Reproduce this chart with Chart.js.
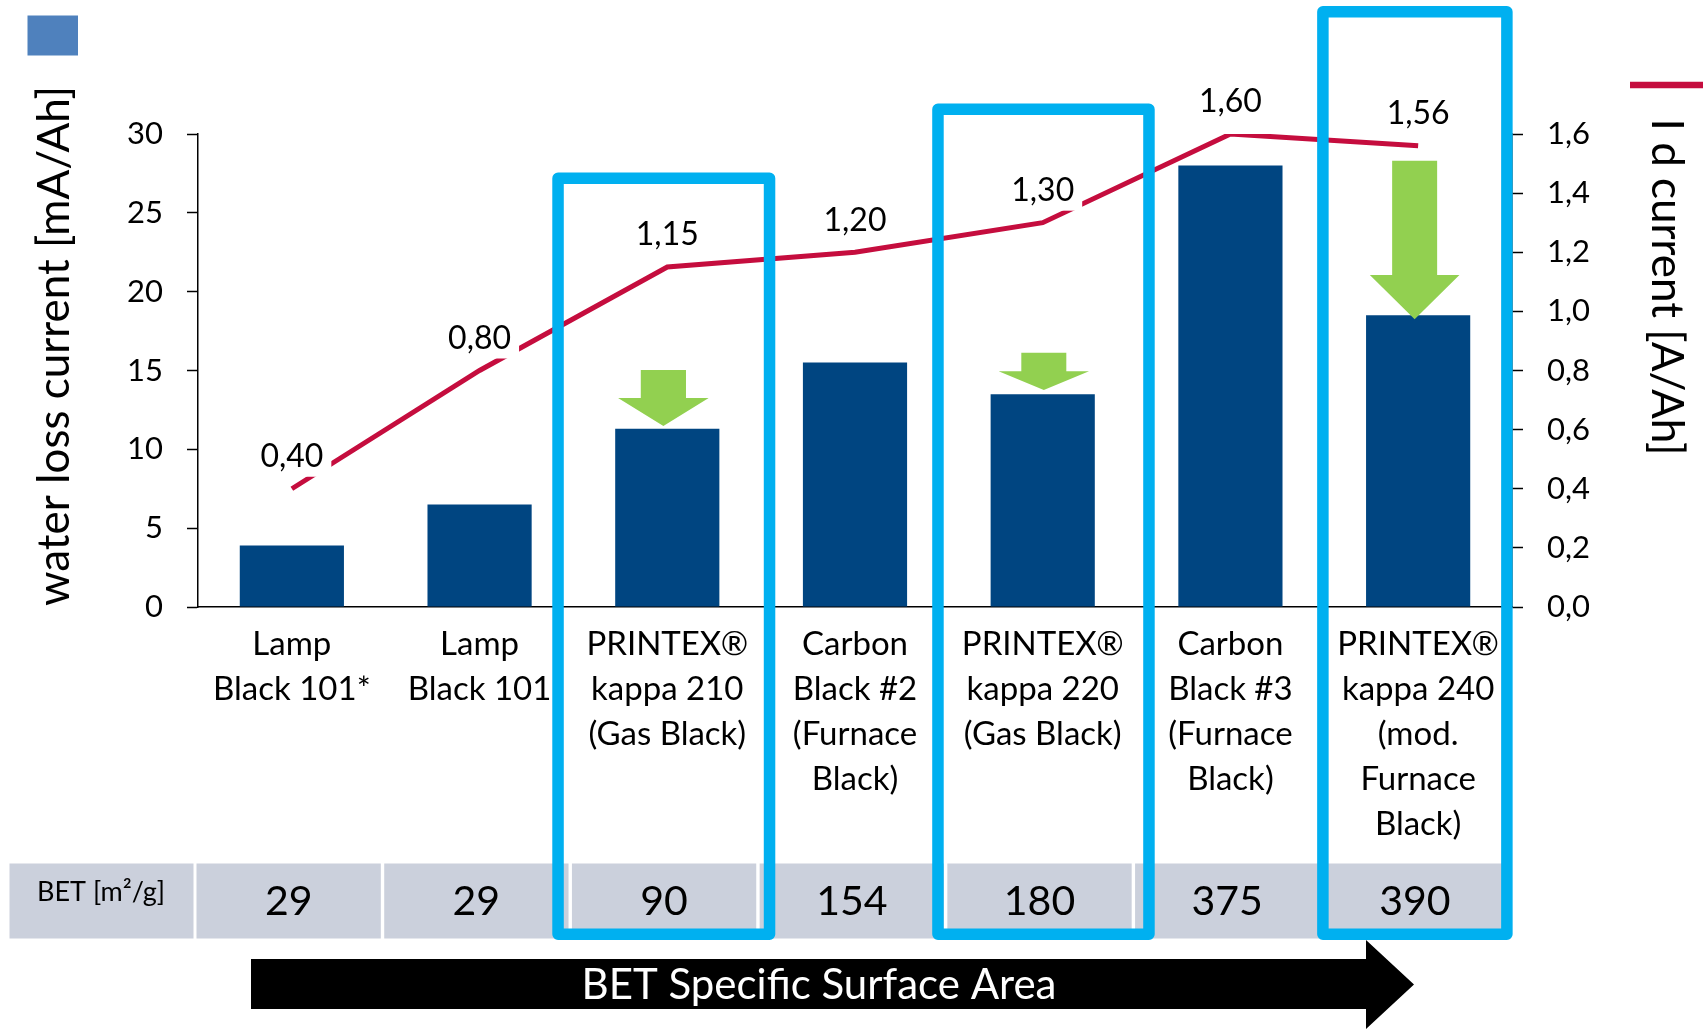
<!DOCTYPE html>
<html>
<head>
<meta charset="utf-8">
<script src="https://cdn.jsdelivr.net/npm/chart.js@4.4.0/dist/chart.umd.min.js"></script>
<style>
  html, body { margin: 0; padding: 0; background: #ffffff; }
  #wrap { width: 1703px; height: 1030px; position: relative; }
</style>
</head>
<body>
<div id="wrap"><canvas id="c" width="1703" height="1030"></canvas></div>
<script>
// ---- data ----
const categories = [
  ["Lamp", "Black 101*"],
  ["Lamp", "Black 101"],
  ["PRINTEX®", "kappa 210", "(Gas Black)"],
  ["Carbon", "Black #2", "(Furnace", "Black)"],
  ["PRINTEX®", "kappa 220", "(Gas Black)"],
  ["Carbon", "Black #3", "(Furnace", "Black)"],
  ["PRINTEX®", "kappa 240", "(mod.", "Furnace", "Black)"]
];
const waterLossCurrent = [3.9, 6.5, 11.3, 15.5, 13.5, 28.0, 18.5];
const idCurrent = [0.40, 0.80, 1.15, 1.20, 1.30, 1.60, 1.56];
const betValues = [29, 29, 90, 154, 180, 375, 390];
const betRowLabel = "BET [m²/g]";
const arrowText = "BET Specific Surface Area";
const leftTitle = "water loss current [mA/Ah]";
const rightTitle = "I d current [A/Ah]";
const highlighted = [2, 4, 6];
const reducedBars = [2, 4, 6];

// ---- styles ----
const BAR_COLOR = '#004581';
const LINE_COLOR = '#C50D3E';
const BOX_COLOR = '#00B0F0';
const GREEN = '#92D050';
const GRAY = '#CBD0DC';
const FONT = 'Lato';

const fmtComma = (v, d) => v.toFixed(d).replace('.', ',');

const overlay = {
  id: 'overlay',
  afterDatasetsDraw(chart) {
    const ctx = chart.ctx;
    const meta = chart.getDatasetMeta(1);
    ctx.save();
    ctx.font = '32px ' + FONT;
    ctx.textAlign = 'center';
    ctx.textBaseline = 'middle';
    meta.data.forEach((pt, i) => {
      const txt = fmtComma(idCurrent[i], 2);
      const w = ctx.measureText(txt).width;
      const cy = pt.y - 33;
      ctx.fillStyle = '#ffffff';
      ctx.fillRect(pt.x - w / 2 - 8, cy - 19, w + 16, 40);
      ctx.fillStyle = '#000000';
      ctx.fillText(txt, pt.x, cy + 1);
    });
    ctx.restore();
  },
  afterDraw(chart) {
    const ctx = chart.ctx;
    const xs = chart.scales.x;
    const cw = xs.getPixelForValue(1) - xs.getPixelForValue(0);
    ctx.save();

    // BET table row
    const rowTop = 863.5, rowBot = 938.5;
    ctx.fillStyle = GRAY;
    ctx.fillRect(9.5, rowTop, 184, rowBot - rowTop);
    betValues.forEach((v, i) => {
      const c = xs.getPixelForValue(i);
      ctx.fillRect(c - cw / 2 - 1.5, rowTop, cw - 3.4, rowBot - rowTop);
    });
    ctx.fillStyle = '#000';
    ctx.textAlign = 'center';
    ctx.textBaseline = 'middle';
    ctx.font = '27px ' + FONT;
    ctx.fillText(betRowLabel, 101, 892);
    ctx.font = '41px ' + FONT;
    betValues.forEach((v, i) => {
      const c = xs.getPixelForValue(i);
      ctx.fillText(String(v), c - 3.2, 902);
    });

    // black arrow
    ctx.fillStyle = '#000';
    ctx.beginPath();
    ctx.moveTo(251, 959);
    ctx.lineTo(1366, 959);
    ctx.lineTo(1366, 940);
    ctx.lineTo(1414, 984.5);
    ctx.lineTo(1366, 1029);
    ctx.lineTo(1366, 1009);
    ctx.lineTo(251, 1009);
    ctx.closePath();
    ctx.fill();
    ctx.fillStyle = '#fff';
    ctx.font = '42px ' + FONT;
    ctx.fillText(arrowText, 819, 985);

    // legend markers
    ctx.fillStyle = '#4F81BD';
    ctx.fillRect(27.5, 15.5, 50.5, 40);
    ctx.strokeStyle = LINE_COLOR;
    ctx.lineWidth = 6.5;
    ctx.beginPath();
    ctx.moveTo(1630, 85);
    ctx.lineTo(1703, 85);
    ctx.stroke();

    // axis titles
    ctx.fillStyle = '#000';
    ctx.textBaseline = 'alphabetic';
    ctx.font = '44px ' + FONT;
    ctx.save();
    ctx.translate(69, 346);
    ctx.rotate(-Math.PI / 2);
    ctx.fillText(leftTitle, 0, 0);
    ctx.restore();
    ctx.save();
    ctx.translate(1652, 287);
    ctx.rotate(Math.PI / 2);
    ctx.fillText(rightTitle, 0, 0);
    ctx.restore();

    // highlight boxes (offsets from category centre, outer edges)
    const boxGeom = [
      { l: -115, r: 108, t: 172.5 },
      { l: -110.5, r: 112, t: 103.5 },
      { l: -101, r: 94.5, t: 6 }
    ];
    const lw = 11.5;
    ctx.strokeStyle = BOX_COLOR;
    ctx.lineWidth = lw;
    ctx.lineJoin = 'round';
    highlighted.forEach((idx, k) => {
      const c = xs.getPixelForValue(idx);
      const g = boxGeom[k];
      const x0 = c + g.l + lw / 2, x1 = c + g.r - lw / 2;
      const y0 = g.t + lw / 2, y1 = 940 - lw / 2;
      ctx.beginPath();
      ctx.rect(x0, y0, x1 - x0, y1 - y0);
      ctx.stroke();
    });

    // green arrows pointing at reduced bars
    const arrowGeom = [
      { dx: -3.9, top: 370, head: 398, tip: 426, sw: 22.6, hw: 45.3 },
      { dx: 1.1, top: 352.7, head: 371.3, tip: 390, sw: 22.5, hw: 45.2 },
      { dx: -3.5, top: 160.7, head: 275, tip: 319.3, sw: 22.5, hw: 44.8 }
    ];
    ctx.fillStyle = GREEN;
    reducedBars.forEach((idx, k) => {
      const g = arrowGeom[k];
      const c = xs.getPixelForValue(idx) + g.dx;
      ctx.beginPath();
      ctx.moveTo(c - g.sw, g.top);
      ctx.lineTo(c + g.sw, g.top);
      ctx.lineTo(c + g.sw, g.head);
      ctx.lineTo(c + g.hw, g.head);
      ctx.lineTo(c, g.tip);
      ctx.lineTo(c - g.hw, g.head);
      ctx.lineTo(c - g.sw, g.head);
      ctx.closePath();
      ctx.fill();
    });

    ctx.restore();
  }
};

new Chart(document.getElementById('c'), {
  type: 'bar',
  data: {
    labels: categories,
    datasets: [
      {
        type: 'bar',
        label: 'water loss current',
        data: waterLossCurrent,
        backgroundColor: BAR_COLOR,
        yAxisID: 'y',
        barPercentage: 0.555,
        categoryPercentage: 1.0,
        order: 2
      },
      {
        type: 'line',
        label: 'I d current',
        data: idCurrent,
        borderColor: LINE_COLOR,
        borderWidth: 5,
        pointRadius: 0,
        tension: 0,
        fill: false,
        yAxisID: 'y1',
        order: 1
      }
    ]
  },
  options: {
    responsive: false,
    animation: false,
    devicePixelRatio: 1,
    layout: { padding: { top: 134, left: 0, right: 0, bottom: 0 } },
    plugins: { legend: { display: false }, title: { display: false }, tooltip: { enabled: false } },
    scales: {
      x: {
        offset: true,
        grid: { display: true, drawOnChartArea: false, drawTicks: false, color: '#000' },
        border: { display: true, color: '#000', width: 1.5 },
        ticks: {
          color: '#000',
          font: { family: FONT, size: 33, lineHeight: 1.36 },
          padding: 15,
          autoSkip: false,
          maxRotation: 0,
          minRotation: 0
        },
        afterFit: (s) => { s.height = 423; }
      },
      y: {
        position: 'left',
        min: 0,
        max: 30,
        ticks: { stepSize: 5, color: '#000', font: { family: FONT, size: 31 }, padding: 24 },
        grid: { drawOnChartArea: false, drawTicks: true, tickLength: 11, color: '#000', tickColor: '#000', tickWidth: 1.5 },
        border: { display: true, color: '#000', width: 1.5 },
        afterFit: (s) => { s.width = 198; }
      },
      y1: {
        position: 'right',
        min: 0,
        max: 1.6,
        ticks: {
          stepSize: 0.2,
          color: '#000',
          font: { family: FONT, size: 31 },
          padding: 24,
          callback: (v) => fmtComma(Number(v), 1)
        },
        grid: { drawOnChartArea: false, drawTicks: true, tickLength: 11, color: '#000', tickColor: '#000', tickWidth: 1.5 },
        border: { display: true, color: '#000', width: 1.5 },
        afterFit: (s) => { s.width = 191; }
      }
    }
  },
  plugins: [overlay]
});
</script>
</body>
</html>
